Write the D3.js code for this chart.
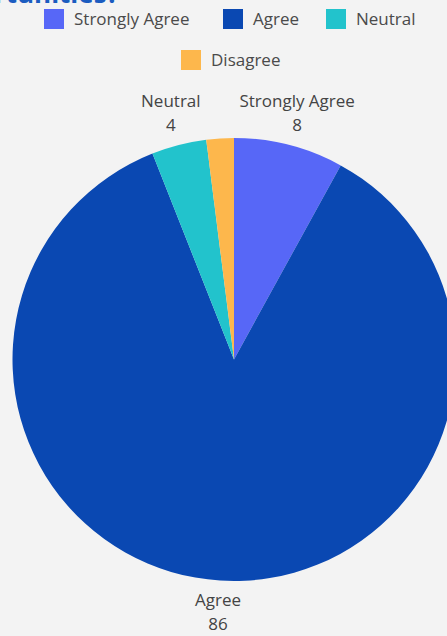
<!DOCTYPE html>
<html><head><meta charset="utf-8">
<script src="https://cdn.jsdelivr.net/npm/d3@7"></script>
<style>
html,body{margin:0;padding:0;background:#f3f3f3;overflow:hidden;}
svg{display:block;font-family:"Open Sans","Noto Sans",sans-serif;}
</style></head>
<body>
<svg id="chart" width="447" height="636"></svg>
<script>
const categories = ["Strongly Agree", "Agree", "Neutral", "Disagree"];
const values = [8, 86, 4, 2];
const colors = ["#5767f7", "#0a48b2", "#22c3cc", "#fdb74c"];
const titleText = "Opportunities?";
const shownLabels = ["Strongly Agree", "Agree", "Neutral"];

const W = 447, H = 636;
const svg = d3.select("#chart");
svg.append("rect").attr("width", W).attr("height", H).attr("fill", "#f3f3f3");

// title (clipped by the top edge, as in the reference)
svg.append("text").attr("x", 119).attr("y", 3)
  .attr("text-anchor", "end").attr("font-size", 26).attr("font-weight", 700)
  .attr("fill", "#1b5cc0").text(titleText);

const color = d3.scaleOrdinal().domain(categories).range(colors);
const data = categories.map((c, i) => ({cat: c, val: values[i]}));

// legend
const legendRows = [
  [{cat: categories[0], x: 44}, {cat: categories[1], x: 223}, {cat: categories[2], x: 326}],
  [{cat: categories[3], x: 181}]
];
const rowY = [9, 50];
legendRows.forEach((row, ri) => {
  row.forEach(it => {
    const g = svg.append("g").attr("transform", `translate(${it.x},${rowY[ri]})`);
    g.append("rect").attr("width", 20).attr("height", 20).attr("fill", color(it.cat));
    g.append("text").attr("x", 30).attr("y", 10).attr("dy", "0.35em")
      .attr("font-size", 17).attr("fill", "#4a4a4a").text(it.cat);
  });
});

// pie
const cx = 234, cy = 359.5, R = 221.5;
const pie = d3.pie().sort(null).value(d => d.val);
const arc = d3.arc().innerRadius(0).outerRadius(R);
const labelArc = d3.arc().innerRadius(254).outerRadius(254);
const arcs = pie(data);
const g = svg.append("g").attr("transform", `translate(${cx},${cy})`);
g.selectAll("path").data(arcs).enter().append("path")
  .attr("d", arc).attr("fill", d => color(d.data.cat));

const lab = g.selectAll("g.lab").data(arcs.filter(d => shownLabels.includes(d.data.cat)))
  .enter().append("g").attr("class", "lab")
  .attr("transform", d => `translate(${labelArc.centroid(d)})`);
lab.append("text").attr("text-anchor", "middle").attr("y", -12.5).attr("dy", "0.35em")
  .attr("font-size", 17).attr("fill", "#444").text(d => d.data.cat);
lab.append("text").attr("text-anchor", "middle").attr("y", 11.5).attr("dy", "0.35em")
  .attr("font-size", 17).attr("fill", "#444").text(d => d.data.val);
</script>
</body></html>
